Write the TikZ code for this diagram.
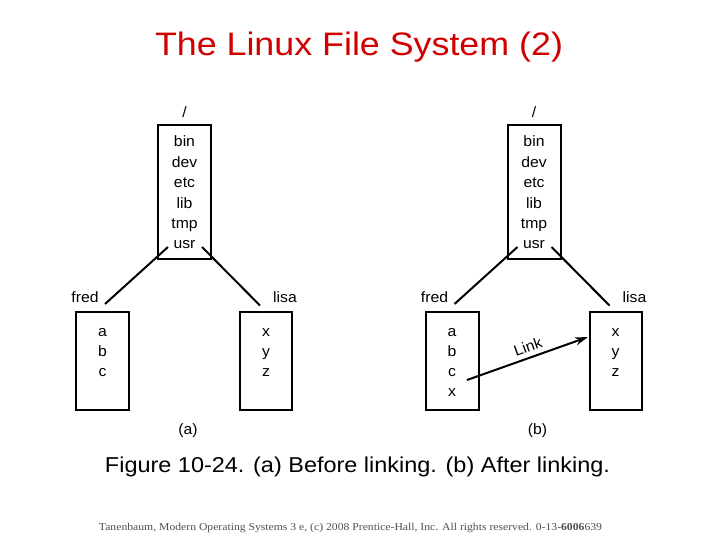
\documentclass[tikz,border=0pt]{standalone}
\usepackage{fontspec}
\usepackage{graphicx}
\setmainfont{Liberation Sans}
\newfontfamily\footfont{Liberation Serif}
\usetikzlibrary{arrows.meta}
\definecolor{titlered}{RGB}{208,0,0}
\definecolor{footgray}{RGB}{80,80,80}
\newcommand\dfs{\fontsize{15}{15}\selectfont}
\newcommand\hs[1]{\scalebox{1.05}[1]{#1}}
\newcommand\fspanel[1]{%
  \node[txt] (slash) at (184.5,118) {\hs{/}};
  \node[box, minimum width=53pt, minimum height=134pt] (root) at (184.5,192) {};
  \node[txt] (bin) at (184.5,147) {\hs{bin}};
  \node[txt] (dev) at (184.5,167.3) {\hs{dev}};
  \node[txt] (etc) at (184.5,187.6) {\hs{etc}};
  \node[txt] (lib) at (184.5,208) {\hs{lib}};
  \node[txt] (tmp) at (184.5,228.3) {\hs{tmp}};
  \node[txt] (usr) at (184.5,248.6) {\hs{usr}};
  \node[txt] (fredlbl) at (85,302.5) {\hs{fred}};
  \node[txt] (lisalbl) at (285,302.5) {\hs{lisa}};
  \node[box, minimum width=53pt, minimum height=98pt] (fred) at (102.5,361) {};
  \node[box, minimum width=52pt, minimum height=98pt] (lisa) at (266,361) {};
  \node[txt] (fa) at (102.5,336) {\hs{a}};
  \node[txt] (fb) at (102.5,356) {\hs{b}};
  \node[txt] (fc) at (102.5,376) {\hs{c}};
  \node[txt] (lx) at (266,336) {\hs{x}};
  \node[txt] (ly) at (266,356) {\hs{y}};
  \node[txt] (lz) at (266,376) {\hs{z}};
  \node[txt] (cap) at (188,434) {\hs{#1}};
  \coordinate (usrL) at (168,247);
  \coordinate (fredR) at (105,304);
  \coordinate (usrR) at (202,247);
  \coordinate (lisaL) at (260,305.5);
  \draw[conn] (usrL) -- (fredR);
  \draw[conn] (usrR) -- (lisaL);
}
\begin{document}
\begin{tikzpicture}[x=1pt,y=-1pt,
  box/.style={draw, line width=2pt, rectangle, inner sep=0pt},
  txt/.style={inner sep=0pt, anchor=base, font=\dfs},
  conn/.style={line width=2pt},
  linkarrow/.style={line width=2pt, -{Stealth[length=13pt,width=8pt]}}]
\useasboundingbox (0,0) rectangle (720,540);
\fill[white] (0,0) rectangle (720,540);
\node[inner sep=0pt, anchor=base, text=titlered] (title) at (359,55.7)
  {\resizebox{408pt}{\height}{\fontsize{32.5}{32.5}\selectfont The Linux File System (2)}};
\begin{scope}[name prefix=a-]
  \fspanel{(a)}
\end{scope}
\begin{scope}[shift={(349.5,0)}, name prefix=b-]
  \fspanel{(b)}
  \node[txt] (fx) at (102.5,396) {\hs{x}};
  \coordinate (linkstart) at (117.5,380);
  \coordinate (linkend) at (238.5,337);
  \draw[linkarrow] (linkstart) -- (linkend);
  \node[inner sep=0pt, font=\dfs, rotate=19.6] (linklbl) at (178.3,346.3) {\hs{Link}};
\end{scope}
\node[inner sep=0pt, anchor=base] (caption) at (357.5,472.5)
  {\resizebox{505pt}{\height}{\fontsize{21.5}{21.5}\selectfont Figure 10-24. (a) Before linking. (b) After linking.}};
\node[inner sep=0pt, anchor=base, text=footgray] (footer) at (350.5,530.3)
  {\resizebox{503pt}{\height}{\footfont\fontsize{10.5}{10.5}\selectfont Tanenbaum, Modern Operating Systems 3 e, (c) 2008 Prentice-Hall, Inc. All rights reserved. 0-13-\textbf{6006}639}};
\end{tikzpicture}
\end{document}
